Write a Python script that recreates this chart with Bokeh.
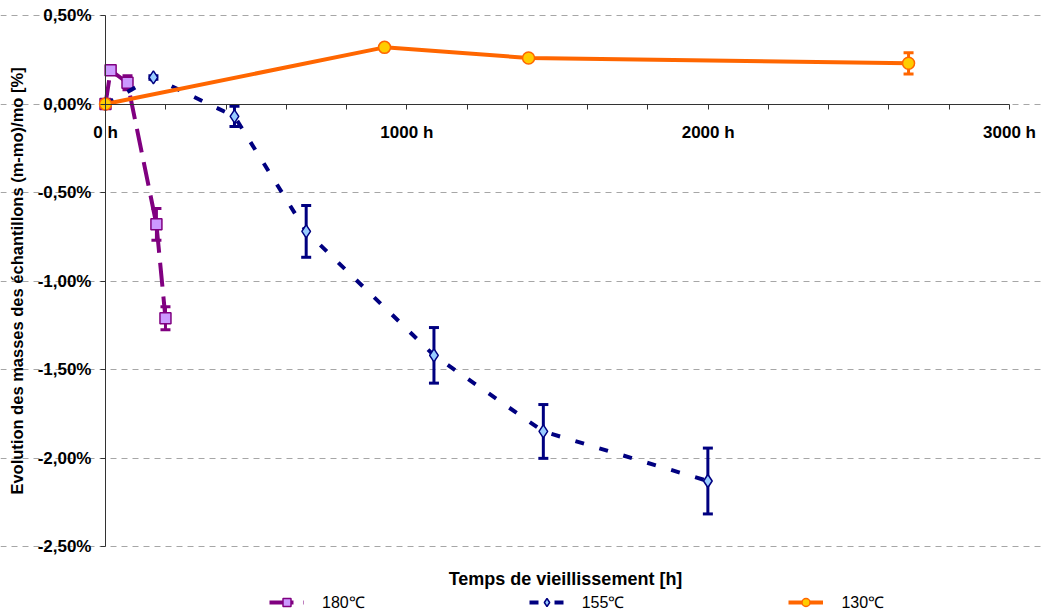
from bokeh.plotting import figure
from bokeh.models import (Range1d, FixedTicker, Whisker, TeeHead, ColumnDataSource,
                          Legend, LegendItem, Label)
from bokeh.embed import file_html
from bokeh.resources import INLINE

# ---- data (hours, mass change in %, error in %) ----
hours_180 = [0, 17, 73, 169, 199]
mass_180 = [0.00, 0.19, 0.12, -0.68, -1.21]
err_180 = [0.0, 0.0, 0.04, 0.09, 0.065]

hours_155 = [0, 159, 428, 666, 1090, 1453, 1999]
mass_155 = [0.00, 0.15, -0.07, -0.72, -1.42, -1.85, -2.13]
err_155 = [0.0, 0.01, 0.057, 0.146, 0.157, 0.152, 0.186]

hours_130 = [0, 926, 1404, 2665]
mass_130 = [0.00, 0.32, 0.26, 0.23]
err_130 = [0.0, 0.01, 0.01, 0.06]

series_labels = ["180\u2103", "155\u2103", "130\u2103"]

x_ticks = [0, 200, 400, 600, 800, 1000, 1200, 1400, 1600, 1800, 2000,
           2200, 2400, 2600, 2800, 3000]
x_label_ticks = [0, 1000, 2000, 3000]
x_tick_labels = ["0 h", "1000 h", "2000 h", "3000 h"]

y_ticks = [0.5, 0.0, -0.5, -1.0, -1.5, -2.0, -2.5]
y_tick_labels = ["0,50%", "0,00%", "-0,50%", "-1,00%", "-1,50%", "-2,00%", "-2,50%"]

x_title = "Temps de vieillissement [h]"
y_title = "Evolution des masses des \u00e9chantillons (m-mo)/mo [%]"

# ---- layout (pixels) ----
W, H = 1041, 616
PX_X0, PX_X1 = 105, 1009      # pixel columns of x = 0 h and x = 3000 h
PX_YT, PX_YB = 15, 546        # pixel rows of y = 0.5 % and y = -2.5 %
XMIN, XMAX = 0, 3000
YMIN, YMAX = -2.5, 0.5

FONT = "Liberation Sans"

xs = (XMAX - XMIN) / (PX_X1 - PX_X0)
ys = (YMAX - YMIN) / (PX_YB - PX_YT)
x_range = Range1d(XMIN - PX_X0 * xs, XMAX + (W - PX_X1) * xs)
y_range = Range1d(YMIN - (H - PX_YB) * ys, YMAX + PX_YT * ys)

p = figure(width=W, height=H, output_backend="svg", toolbar_location=None,
           x_range=x_range, y_range=y_range)
p.min_border = 0
p.title.visible = False
p.outline_line_color = None
p.background_fill_color = "white"
p.border_fill_color = "white"

# grids
p.xgrid.visible = False
yticker = FixedTicker(ticks=y_ticks)
p.ygrid.ticker = yticker
p.ygrid.bounds = (XMIN, XMAX)
p.ygrid.grid_line_color = "#A6A6A6"
p.ygrid.grid_line_dash = "6 5"
p.ygrid.grid_line_width = 1

# x axis (crossing at y = 0)
xa = p.xaxis[0]
xa.ticker = FixedTicker(ticks=x_ticks)
overrides = {t: "" for t in x_ticks}
for t, lab in zip(x_label_ticks, x_tick_labels):
    overrides[t] = lab
xa.major_label_overrides = overrides
xa.fixed_location = 0
xa.bounds = (XMIN, XMAX)
xa.minor_tick_line_color = None
xa.major_tick_in = 0
xa.major_tick_out = 5
xa.major_label_standoff = 14
xa.axis_line_color = "#333333"
xa.major_tick_line_color = "#333333"
xa.major_label_text_font = FONT
xa.major_label_text_font_style = "bold"
xa.major_label_text_font_size = "17px"
xa.major_label_text_color = "black"

# y axis (crossing at x = 0)
ya = p.yaxis[0]
ya.ticker = yticker
ya.major_label_overrides = dict(zip(y_ticks, y_tick_labels))
ya.fixed_location = 0
ya.bounds = (YMIN, YMAX)
ya.minor_tick_line_color = None
ya.major_tick_in = 0
ya.major_tick_out = 5
ya.major_label_standoff = 9
ya.axis_line_color = "#333333"
ya.major_tick_line_color = "#333333"
ya.major_label_text_font = FONT
ya.major_label_text_font_style = "bold"
ya.major_label_text_font_size = "17px"
ya.major_label_text_color = "black"
ya.axis_label = y_title
ya.axis_label_text_font = FONT
ya.axis_label_text_font_style = "bold"
ya.axis_label_text_font_size = "16.5px"
ya.axis_label_text_color = "black"
ya.axis_label_standoff = 9

# series
specs = [
    (hours_180, mass_180, err_180, "#800080", "square", "#CC99FF", "24 10", 11),
    (hours_155, mass_155, err_155, "#000080", "diamond", "#99CCFF", "9 16", 13),
    (hours_130, mass_130, err_130, "#FF6600", "circle", "#FFCC00", "solid", 12),
]

items = []
for (hx, my, er, col, mk, fill, dash, msize), lab in zip(specs, series_labels):
    src = ColumnDataSource(dict(x=hx, y=my,
                                lo=[a - b for a, b in zip(my, er)],
                                hi=[a + b for a, b in zip(my, er)]))
    w = Whisker(source=src, base="x", lower="lo", upper="hi", dimension="height",
                line_color=col, line_width=3, level="underlay",
                upper_head=TeeHead(size=10, line_color=col, line_width=3),
                lower_head=TeeHead(size=10, line_color=col, line_width=3))
    p.add_layout(w)
    lr = p.line("x", "y", source=src, line_color=col, line_width=4,
                line_dash=dash, line_cap="butt")
    sr = p.scatter("x", "y", source=src, marker=mk, size=msize,
                   fill_color=fill, line_color=col, line_width=1.5)
    items.append(LegendItem(label=lab, renderers=[lr, sr]))

legend = Legend(items=items, orientation="horizontal", location=(269, 3),
                glyph_width=35, glyph_height=20, label_height=20,
                label_standoff=18, spacing=164,
                padding=0, margin=0, border_line_color=None,
                background_fill_alpha=0,
                label_text_font=FONT, label_text_font_size="16px",
                label_text_color="black")
p.add_layout(legend, "center")

p.add_layout(Label(x=565, y=H - 578, x_units="screen", y_units="screen",
                   text=x_title, text_align="center", text_baseline="middle",
                   text_font=FONT, text_font_style="bold", text_font_size="18px",
                   text_color="black"))

open("out.html", "w").write(file_html(p, INLINE))
